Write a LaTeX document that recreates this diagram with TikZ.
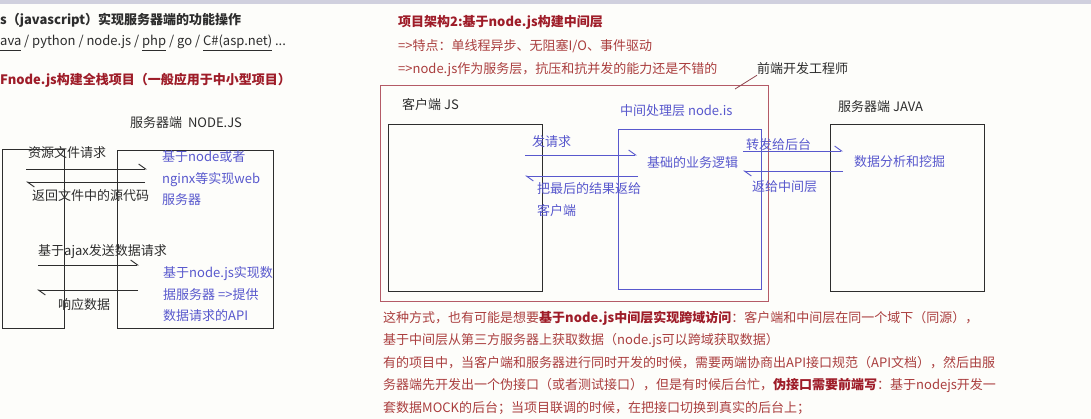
\documentclass[tikz,border=0pt]{standalone}
\usepackage{fontspec}
\setmainfont{Noto Sans CJK SC}
\usepackage{xcolor}
\usetikzlibrary{arrows.meta}
\definecolor{titlered}{RGB}{158, 28, 40}
\definecolor{textred}{RGB}{170, 62, 62}
\definecolor{boxred}{RGB}{180, 90, 102}
\definecolor{penblue}{RGB}{88, 88, 205}
\definecolor{inkgray}{RGB}{45, 45, 45}
\definecolor{pagebg}{RGB}{253, 253, 250}
\definecolor{barbg}{RGB}{208, 208, 222}

\begin{document}
\begin{tikzpicture}[
    x=1pt, y=-1pt,
    font=\fontsize{13}{15}\selectfont,
    % Define styles
    box/.style = {rectangle, draw=inkgray, line width=1pt, anchor=north west, inner sep=0pt},
    bluebox/.style = {box, draw=penblue},
    redbox/.style = {box, draw=boxred},
    label/.style = {anchor=west, inner sep=0pt, text=inkgray},
    bluelabel/.style = {label, text=penblue},
    bluelines/.style = {anchor=north west, inner sep=0pt, text=penblue, align=left, font=\fontsize{13}{21.5}\selectfont},
    headline/.style = {label, text=titlered, font=\fontsize{13}{15}\selectfont\bfseries},
    noteline/.style = {label, text=textred},
    graybarb/.style = {draw=inkgray, line width=0.9pt, -{Straight Barb[left, length=7pt, width=10pt]}},
    bluebarb/.style = {graybarb, draw=penblue},
    pointer/.style = {draw=boxred!80!black, line width=0.8pt}
]

% Page
\useasboundingbox (0,0) rectangle (1091,419);
\fill[pagebg] (0,0) rectangle (1091,419);
\fill[barbg] (0,0) rectangle (1091,4);

% Left column text
\node [label, font=\fontsize{13}{15}\selectfont\bfseries] (jsline) at (0,20) {s（javascript）实现服务器端的功能操作};
\node [label] (langs) at (0,43) {\underline{ava\vphantom{p}} / python / node.js / \underline{php} / go / \underline{C\#(asp.net)} ...};
\node [headline] (fullstack) at (0,80) {Fnode.js构建全栈项目（一般应用于中小型项目）};

% Left diagram
\node [box, minimum width=62pt, minimum height=179pt] (browser) at (2,149) {};
\node [box, minimum width=156pt, minimum height=178pt] (nodeserver) at (117,150) {};
\node [label] (nodetitle) at (130,123) {服务器端\ \ NODE.JS};
\node [label] (reqlabel) at (28,153) {资源文件请求};
\node [label] (retlabel) at (32,196) {返回文件中的源代码};
\node [bluelines] (webnote) at (162,150.5) {基于node或者\\nginx等实现web\\服务器};
\node [label] (ajaxlabel) at (38,252) {基于ajax发送数据请求};
\node [label] (resplabel) at (58,305) {响应数据};
\node [bluelines] (apinote) at (163,266.5) {基于node.js实现数\\据服务器 =>提供\\数据请求的API};

\coordinate (reqA) at (26,169);   \coordinate (reqB) at (147,169);
\coordinate (retA) at (145,182);  \coordinate (retB) at (26,182);
\coordinate (ajaxA) at (38,265);  \coordinate (ajaxB) at (139,265);
\coordinate (respA) at (138,290); \coordinate (respB) at (37,290);

\draw [graybarb] (reqA) -- (reqB);
\draw [graybarb] (retA) -- (retB);
\draw [graybarb] (ajaxA) -- (ajaxB);
\draw [graybarb] (respA) -- (respB);

% Right column text
\node [headline] (arch) at (398,22) {项目架构2:基于node.js构建中间层};
\node [noteline] (feature) at (398,46) {=>特点：单线程异步、无阻塞I/O、事件驱动};
\node [noteline] (service) at (398,70) {=>node.js作为服务层，抗压和抗并发的能力还是不错的};
\node [label] (frontdev) at (757,69) {前端开发工程师};

% Right diagram
\node [redbox, minimum width=388pt, minimum height=216pt] (frontend) at (380,85) {};
\node [box, minimum width=154pt, minimum height=167pt] (client) at (388,124) {};
\node [bluebox, minimum width=143pt, minimum height=160pt] (middle) at (618,129) {};
\node [box, minimum width=154pt, minimum height=167pt] (java) at (830,124) {};

\node [label] (clienttitle) at (402,105) {客户端 JS};
\node [bluelabel] (middletitle) at (620,111) {中间处理层 node.is};
\node [label] (javatitle) at (838,107) {服务器端 JAVA};
\node [bluelabel] (logic) at (647,163) {基础的业务逻辑};
\node [bluelabel] (mining) at (854,162) {数据分析和挖掘};

\node [bluelabel] (sendlabel) at (532,142) {发请求};
\node [bluelines, font=\fontsize{13}{22}\selectfont] (backlabel) at (537,182.5) {把最后的结果返给\\客户端};
\node [bluelabel] (fwdlabel) at (746,145) {转发给后台};
\node [bluelabel] (replylabel) at (752,187) {返给中间层};

\coordinate (sendA) at (525,155);  \coordinate (sendB) at (637,155);
\coordinate (backA) at (638,176);  \coordinate (backB) at (525,176);
\coordinate (fwdA) at (743,151);   \coordinate (fwdB) at (843,151);
\coordinate (replyA) at (843,171); \coordinate (replyB) at (743,171);
\coordinate (ptr) at (735,89);

\draw [bluebarb] (sendA) -- (sendB);
\draw [bluebarb] (backA) -- (backB);
\draw [bluebarb] (fwdA) -- (fwdB);
\draw [bluebarb] (replyA) -- (replyB);
\draw [pointer] (ptr) -- (frontdev.south west);

% Notes under the diagram
\node [anchor=north west, inner sep=0pt, text=textred, align=left, font=\fontsize{13}{22.5}\selectfont] (notes) at (383,310.5) {%
这种方式，也有可能是想要{\color{titlered}\bfseries 基于node.js中间层实现跨域访问}：客户端和中间层在同一个域下（同源），\\
基于中间层从第三方服务器上获取数据（node.js可以跨域获取数据）\\
有的项目中，当客户端和服务器进行同时开发的时候，需要两端协商出API接口规范（API文档），然后由服\\
务器端先开发出一个伪接口（或者测试接口），但是有时候后台忙，{\color{titlered}\bfseries 伪接口需要前端写}：基于nodejs开发一\\
套数据MOCK的后台；当项目联调的时候，在把接口切换到真实的后台上；};

\end{tikzpicture}
\end{document}
